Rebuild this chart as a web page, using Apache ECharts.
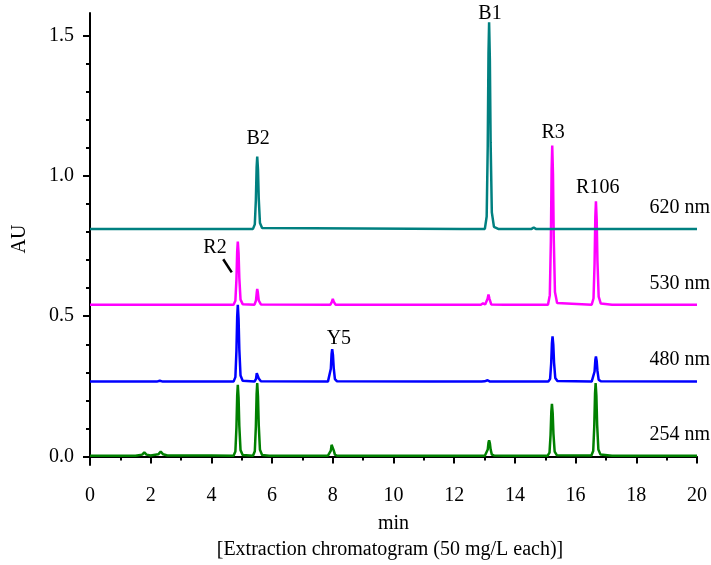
<!DOCTYPE html>
<html>
<head>
<meta charset="utf-8">
<script src="https://cdn.jsdelivr.net/npm/echarts@6/dist/echarts.min.js"></script>
<style>
  html, body { margin: 0; padding: 0; background: #fff; }
  #chart { width: 711px; height: 565px; }
</style>
</head>
<body>
<div id="chart"></div>
<script>
// traces as [min, AU] pairs (offsets already included)
const trace620 = [
  [0, 0.811], [2.25, 0.811], [2.3, 0.813], [2.35, 0.811],
  [4.8, 0.811], [4.86, 0.814], [4.92, 0.811],
  [5.37, 0.811], [5.43, 0.827], [5.465, 0.914], [5.49, 1.030], [5.51, 1.069], [5.535, 1.023], [5.56, 0.919], [5.60, 0.832], [5.67, 0.814],
  [12.25, 0.811], [12.3, 0.814], [12.35, 0.811],
  [13.01, 0.811], [13.07, 0.855], [13.105, 1.105], [13.13, 1.437], [13.15, 1.547], [13.175, 1.415], [13.2, 1.120], [13.24, 0.870], [13.31, 0.818], [13.45, 0.811],
  [13.8, 0.811], [13.85, 0.814], [13.9, 0.811],
  [14.55, 0.811], [14.62, 0.816], [14.69, 0.811],
  [20, 0.811]
];
const trace530 = [
  [0, 0.541], [2.25, 0.541], [2.3, 0.543], [2.35, 0.541],
  [4.73, 0.541], [4.79, 0.555], [4.825, 0.631], [4.85, 0.732], [4.87, 0.766], [4.895, 0.726], [4.92, 0.636], [4.96, 0.559], [5.03, 0.543],
  [5.42, 0.541], [5.47, 0.556], [5.495, 0.585], [5.51, 0.597], [5.53, 0.585], [5.56, 0.556], [5.63, 0.542],
  [7.92, 0.541], [7.97, 0.551], [8.0, 0.562], [8.03, 0.552], [8.09, 0.541],
  [12.88, 0.541], [12.95, 0.546], [13.02, 0.542],
  [13.06, 0.542], [13.1, 0.562], [13.13, 0.577], [13.16, 0.563], [13.22, 0.542],
  [13.65, 0.541], [13.7, 0.545], [13.75, 0.541],
  [15.09, 0.541], [15.15, 0.575], [15.185, 0.768], [15.21, 1.023], [15.23, 1.108], [15.255, 1.006], [15.28, 0.779], [15.32, 0.586], [15.39, 0.547],
  [16.53, 0.541], [16.59, 0.563], [16.625, 0.688], [16.65, 0.854], [16.67, 0.909], [16.695, 0.843], [16.72, 0.696], [16.76, 0.570], [16.83, 0.545],
  [17.2, 0.541], [20, 0.541]
];
const trace480 = [
  [0, 0.267], [2.2, 0.267], [2.3, 0.27], [2.4, 0.267],
  [4.73, 0.267], [4.79, 0.283], [4.825, 0.377], [4.85, 0.500], [4.87, 0.541], [4.895, 0.492], [4.92, 0.382], [4.96, 0.289], [5.03, 0.270],
  [5.42, 0.267], [5.47, 0.277], [5.495, 0.297], [5.51, 0.304], [5.53, 0.296], [5.56, 0.278], [5.63, 0.268],
  [7.84, 0.267], [7.9, 0.274], [7.935, 0.313], [7.96, 0.366], [7.98, 0.383], [8.005, 0.362], [8.03, 0.316], [8.07, 0.276], [8.14, 0.268],
  [11.2, 0.267], [11.25, 0.269], [11.3, 0.267],
  [12.9, 0.267], [12.95, 0.271], [13.0, 0.268], [13.1, 0.272], [13.18, 0.267],
  [13.65, 0.267], [13.7, 0.271], [13.75, 0.267],
  [15.1, 0.267], [15.16, 0.277], [15.195, 0.331], [15.22, 0.404], [15.24, 0.428], [15.265, 0.399], [15.29, 0.335], [15.33, 0.280], [15.4, 0.269],
  [16.53, 0.267], [16.59, 0.272], [16.625, 0.303], [16.65, 0.344], [16.67, 0.357], [16.695, 0.341], [16.72, 0.305], [16.76, 0.274], [16.83, 0.268],
  [20, 0.267]
];
const trace254 = [
  [0, 0.003], [1.5, 0.003], [1.72, 0.007], [1.79, 0.015], [1.86, 0.007], [2.0, 0.004],
  [2.25, 0.008], [2.33, 0.018], [2.41, 0.008], [2.55, 0.004], [4.0, 0.004],
  [4.73, 0.003], [4.79, 0.018], [4.825, 0.104], [4.85, 0.218], [4.87, 0.256], [4.895, 0.210], [4.92, 0.109], [4.96, 0.023], [5.03, 0.006],
  [5.37, 0.003], [5.43, 0.019], [5.465, 0.107], [5.49, 0.223], [5.51, 0.262], [5.535, 0.215], [5.56, 0.112], [5.60, 0.024], [5.67, 0.006],
  [5.9, 0.003], [5.95, 0.008], [6.0, 0.003],
  [7.84, 0.003], [7.9, 0.006], [7.935, 0.021], [7.96, 0.042], [7.98, 0.049], [8.005, 0.041], [8.03, 0.022], [8.07, 0.007], [8.14, 0.003],
  [13.01, 0.003], [13.07, 0.006], [13.105, 0.025], [13.13, 0.050], [13.15, 0.058], [13.175, 0.048], [13.2, 0.026], [13.24, 0.007], [13.31, 0.004],
  [13.65, 0.003], [13.7, 0.006], [13.75, 0.003],
  [14.65, 0.003], [14.7, 0.006], [14.75, 0.003],
  [15.08, 0.003], [15.14, 0.014], [15.175, 0.077], [15.2, 0.160], [15.22, 0.188], [15.245, 0.155], [15.27, 0.081], [15.31, 0.018], [15.38, 0.005],
  [16.52, 0.004], [16.58, 0.020], [16.615, 0.108], [16.64, 0.224], [16.66, 0.262], [16.685, 0.216], [16.71, 0.113], [16.75, 0.025], [16.82, 0.007],
  [17.2, 0.003], [20, 0.003]
];

const wavelengths = ['620 nm', '530 nm', '480 nm', '254 nm'];
const peakNames = ['B1', 'B2', 'R3', 'R106', 'R2', 'Y5'];
const yMajorTicks = [0, 0.5, 1.0, 1.5];
const yMinorTicks = [0.1, 0.2, 0.3, 0.4, 0.6, 0.7, 0.8, 0.9, 1.1, 1.2, 1.3, 1.4];

// annotation anchors in data coords (min, AU)
const peakLabelAt = [[13.18, 1.576], [5.54, 1.131], [15.26, 1.152], [16.73, 0.957], [4.12, 0.743], [8.2, 0.419]];
const wavelengthLabelAt = [[20.43, 0.885], [20.43, 0.615], [20.43, 0.344], [20.43, 0.077]];
const r2Leader = [[4.39, 0.703], [4.67, 0.656]];

const FONT = '"Liberation Serif", "Times New Roman", serif';
const colors = ['#008080', '#ff00ff', '#0000ff', '#008000'];
const traces = [trace620, trace530, trace480, trace254];

const chart = echarts.init(document.getElementById('chart'));

const axisLine = { show: true, lineStyle: { color: '#000', width: 2 } };

chart.setOption({
  animation: false,
  grid: { left: 90, right: 14, top: 13, bottom: 100 },
  xAxis: {
    type: 'value', min: 0, max: 20, interval: 2,
    name: 'min', nameLocation: 'middle', nameGap: 49,
    nameTextStyle: { fontFamily: FONT, fontSize: 20, color: '#000' },
    axisLine: axisLine,
    axisTick: { show: true, length: 7, lineStyle: { color: '#000', width: 2 } },
    minorTick: { show: true, splitNumber: 2, length: 4, lineStyle: { color: '#000', width: 2 } },
    axisLabel: { fontFamily: FONT, fontSize: 20, color: '#000', margin: 21 },
    splitLine: { show: false }
  },
  yAxis: [
    {
      type: 'value', min: -0.03, max: 1.58,
      name: 'AU', nameLocation: 'middle', nameGap: 60,
      nameTextStyle: { fontFamily: FONT, fontSize: 20, color: '#000' },
      axisLine: axisLine,
      axisTick: { show: true, length: 7, customValues: yMajorTicks, lineStyle: { color: '#000', width: 2 } },
      axisLabel: {
        fontFamily: FONT, fontSize: 20, color: '#000', margin: 16,
        customValues: yMajorTicks, formatter: v => v.toFixed(1)
      },
      splitLine: { show: false }
    },
    {
      // minor ticks only
      type: 'value', min: -0.03, max: 1.58, position: 'left',
      axisLine: { show: false },
      axisTick: { show: true, length: 4, customValues: yMinorTicks, lineStyle: { color: '#000', width: 2 } },
      axisLabel: { show: false },
      splitLine: { show: false }
    }
  ],
  series: traces.map((d, i) => ({
    name: wavelengths[i],
    type: 'line',
    data: d,
    yAxisIndex: 0,
    symbol: 'none',
    smooth: false,
    lineStyle: { color: colors[i], width: 2.5 },
    z: 2 + (3 - i)
  }))
});

function placeAnnotations() {
  const px = p => chart.convertToPixel({ xAxisIndex: 0, yAxisIndex: 0 }, p);
  const items = [];
  peakNames.forEach((name, i) => {
    const p = px(peakLabelAt[i]);
    items.push({
      type: 'text', x: p[0], y: p[1], z: 10,
      style: { text: name, font: '20px ' + FONT, fill: '#000', textAlign: 'center', textVerticalAlign: 'middle' }
    });
  });
  wavelengths.forEach((name, i) => {
    const p = px(wavelengthLabelAt[i]);
    items.push({
      type: 'text', x: p[0], y: p[1], z: 10,
      style: { text: name, font: '20px ' + FONT, fill: '#000', textAlign: 'right', textVerticalAlign: 'middle' }
    });
  });
  const a = px(r2Leader[0]), b = px(r2Leader[1]);
  items.push({
    type: 'line', z: 10,
    shape: { x1: a[0], y1: a[1], x2: b[0], y2: b[1] },
    style: { stroke: '#000', lineWidth: 2.5 }
  });
  items.push({
    type: 'text', x: 390, y: 550, z: 10,
    style: {
      text: '[Extraction chromatogram (50 mg/L each)]', font: '20px ' + FONT,
      fill: '#000', textAlign: 'center', textVerticalAlign: 'middle'
    }
  });
  chart.setOption({ graphic: items });
}
placeAnnotations();
</script>
</body>
</html>
